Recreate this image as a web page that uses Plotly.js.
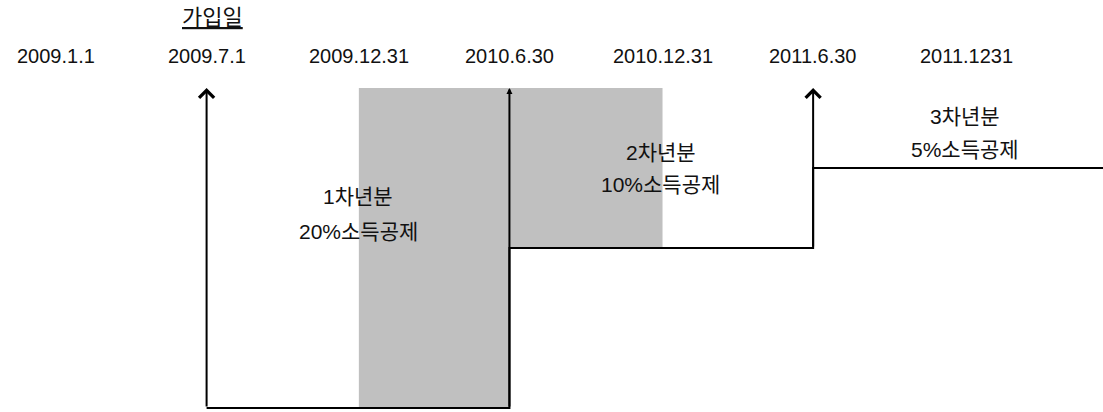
<!DOCTYPE html>
<html><head><meta charset="utf-8">
<script src="https://cdn.plot.ly/plotly-3.0.1.min.js"></script>
<style>html,body{margin:0;padding:0;background:#fff;}#chart{width:1103px;height:412px;}</style>
</head><body><div id="chart"></div>
<script>
// ---- data ----
const tickDates  = ['2009-01-01','2009-07-01','2009-12-31','2010-06-30','2010-12-31','2011-06-30','2011-12-31'];
const tickLabels = ['2009.1.1','2009.7.1','2009.12.31','2010.6.30','2010.12.31','2011.6.30','2011.1231'];
const joinDate = '2009-07-01';
const joinLabel = '가입일';
const periodStart = ['2009-07-01','2010-06-30','2011-06-30'];
const periodEnd   = ['2010-06-30','2011-06-30','2012-06-30'];
const deductionRate = [20, 10, 5];
const periodNames = ['1차년분','2차년분','3차년분'];
const rateTexts   = ['20%소득공제','10%소득공제','5%소득공제'];
const taxYearStart = ['2009-12-31','2010-06-30'];
const taxYearEnd   = ['2010-06-30','2010-12-31'];
const taxYearRate  = [20, 10];

// ---- layout helpers (positions / styles) ----
const latinKr = 'Liberation Sans, Arial, Noto Sans CJK KR, sans-serif';
const labelRowY = [[6.8, 8.95], [4.0, 6.05], [1.8, 3.85]];
const arrowHeads = [4, 2, 4, 4];
const arrowSizes = [1.45, 0.6, 1.45, 1.45];

function mid(a, b) {
  const t = (Date.parse(a) + Date.parse(b)) / 2;
  return new Date(t).toISOString().slice(0, 10);
}

// step line of deduction rate
const stepX = [], stepY = [];
for (let i = 0; i < deductionRate.length; i++) {
  stepX.push(periodStart[i], periodEnd[i]);
  stepY.push(deductionRate[i], deductionRate[i]);
}

const traces = [{
  type: 'scatter', mode: 'lines', x: stepX, y: stepY,
  line: {color: '#000', width: 2}, hoverinfo: 'skip'
}];

const shapes = taxYearStart.map((s, i) => ({
  type: 'rect', xref: 'x', yref: 'y', layer: 'below',
  x0: s, x1: taxYearEnd[i], y0: 0, y1: taxYearRate[i],
  fillcolor: '#c0c0c0', line: {width: 0}
}));

const annotations = [];
// arrows: join date + each anniversary
const arrowDates = [joinDate].concat(periodEnd);
const arrowFrom  = [deductionRate[0]].concat(deductionRate);
arrowDates.forEach((d, i) => {
  annotations.push({
    x: d, y: 0, xref: 'x', yref: 'y',
    ax: d, ay: arrowFrom[i], axref: 'x', ayref: 'y',
    text: '', showarrow: true, arrowhead: arrowHeads[i], arrowsize: arrowSizes[i],
    arrowwidth: 2, arrowcolor: '#000', standoff: 0, startstandoff: 0
  });
});
// date labels
tickDates.forEach((d, i) => {
  annotations.push({
    x: d, y: 1 - 56 / 412, xref: 'x', yref: 'paper', showarrow: false,
    text: tickLabels[i], xanchor: 'center', yanchor: 'middle',
    font: {family: latinKr, size: 20, color: '#111'}
  });
});
// join label
annotations.push({
  x: joinDate, y: 1 - 18 / 412, xref: 'x', yref: 'paper', showarrow: false,
  text: '<u>' + joinLabel + '</u>', xanchor: 'center', yanchor: 'middle', xshift: 6,
  font: {family: latinKr, size: 22, color: '#111'}
});
// period labels
periodNames.forEach((n, i) => {
  const xm = mid(periodStart[i], periodEnd[i]);
  [n, rateTexts[i]].forEach((t, k) => {
    annotations.push({
      x: xm, y: labelRowY[i][k], xref: 'x', yref: 'y', showarrow: false,
      text: t, xanchor: 'center', yanchor: 'middle',
      font: {family: latinKr, size: 21, color: '#111'}
    });
  });
});

const layout = {
  width: 1103, height: 412, margin: {l: 0, r: 0, t: 0, b: 0},
  paper_bgcolor: '#fff', plot_bgcolor: '#fff', showlegend: false,
  xaxis: {type: 'date', range: ['2008-10-25 16:48', '2012-06-12 09:36'], visible: false, fixedrange: true},
  yaxis: {range: [20.25, -5.5], visible: false, fixedrange: true},
  shapes: shapes, annotations: annotations
};

Plotly.newPlot('chart', traces, layout, {displayModeBar: false, staticPlot: true});
</script>
</body></html>
